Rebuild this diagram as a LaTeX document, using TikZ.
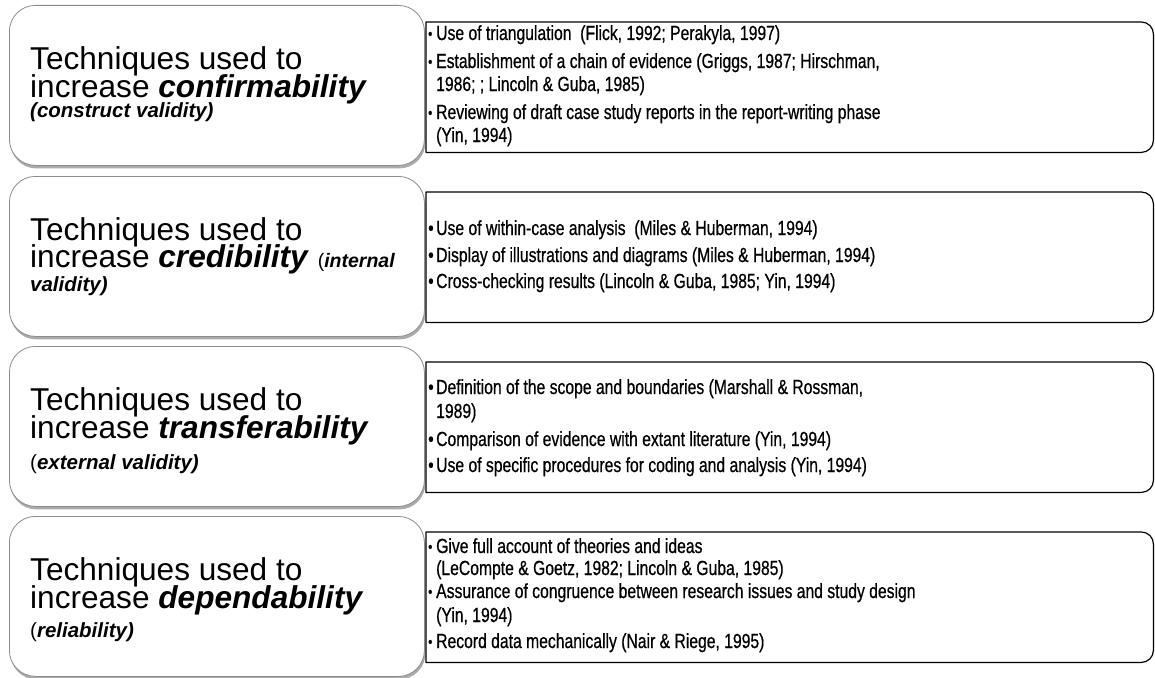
\documentclass[tikz,border=0pt]{standalone}
\usepackage{fontspec}
\setmainfont{Liberation Sans}
\newfontfamily\narrowfont{Liberation Sans}[FakeStretch=0.77, FakeBold=0.6]
\usetikzlibrary{shadows}

% bullet and hanging indent for the item lists
\newcommand\bul{\makebox[8pt][l]{\textbullet}}
\newcommand\sbul{\makebox[8pt][l]{\raisebox{1pt}{\scalebox{0.75}{\textbullet}}}}
\newcommand\cont{\hspace*{8pt}}
\newcommand\bi[1]{\textbf{\textit{#1}}}

\tikzset{
  leftbox/.style={draw=black!45, fill=white, line width=0.8pt,
    rounded corners=26pt, anchor=north west, inner sep=0pt,
    minimum width=415pt, minimum height=160pt,
    drop shadow={shadow xshift=1pt, shadow yshift=-3pt, fill=black!60, opacity=0.55}},
  rightbox/.style={fill=white, anchor=north west, inner sep=0pt,
    minimum width=727pt, minimum height=130pt},
  rightedge/.style={draw=black, line width=1.2pt, line join=round},
  ltitle/.style={anchor=base west, inner sep=0pt, font=\fontsize{31.6}{31.6}\selectfont},
  lsub/.style={anchor=base west, inner sep=0pt, font=\fontsize{20.5}{20.5}\selectfont},
  rtext/.style={anchor=base west, inner sep=0pt, font=\narrowfont\fontsize{20.4}{24}\selectfont},
}

\begin{document}
\begin{tikzpicture}[x=1pt, y=-1pt]
\useasboundingbox (0,0) rectangle (1155,677);
\fill[white] (0,0) rectangle (1155,677);

% left-hand boxes
\node[leftbox] (L1) at (9,5) {};
\node[leftbox] (L2) at (9,176) {};
\node[leftbox] (L3) at (9,346) {};
\node[leftbox] (L4) at (9,516) {};

% right-hand boxes: square on the left, rounded on the right
\node[rightbox] (R1) at (426,22) {};
\node[rightbox] (R2) at (426,192) {};
\node[rightbox] (R3) at (426,362) {};
\node[rightbox] (R4) at (426,532) {};
\foreach \n in {R1,R2,R3,R4}{
  \draw[rightedge] (\n.north west) -- ([xshift=-12pt]\n.north east)
    arc[start angle=90, end angle=0, radius=12pt]
    -- ([yshift=12pt]\n.south east)
    arc[start angle=0, end angle=-90, radius=12pt]
    -- (\n.south west) -- cycle;
}

% titles
\node[ltitle] (t1a) at (30,70)  {Techniques used to};
\node[ltitle] (t1b) at (30,97)  {increase \bi{confirmability}};
\node[lsub]   (t1c) at (30,117) {\bi{(construct validity)}};

\node[ltitle] (t2a) at (30,240) {Techniques used to};
\node[ltitle] (t2b) at (30,267) {increase \bi{credibility} {\fontsize{19.5}{19.5}\selectfont (\bi{internal}}};
\node[lsub]   (t2c) at (30,291) {\bi{validity)}};

\node[ltitle] (t3a) at (30,410) {Techniques used to};
\node[ltitle] (t3b) at (30,438) {increase \bi{transferability}};
\node[lsub]   (t3c) at (30,469) {(\bi{external validity)}};

\node[ltitle] (t4a) at (30,580) {Techniques used to};
\node[ltitle] (t4b) at (30,608) {increase \bi{dependability}};
\node[lsub]   (t4c) at (30,637) {(\bi{reliability)}};

% item lists
\node[rtext] (i1a) at (428,40)  {\sbul Use of triangulation\ \ (Flick, 1992; Perakyla, 1997)};
\node[rtext] (i1b) at (428,68)  {\sbul Establishment of a chain of evidence (Griggs, 1987; Hirschman,};
\node[rtext] (i1c) at (428,91)  {\cont 1986; ; Lincoln \& Guba, 1985)};
\node[rtext] (i1d) at (428,119) {\sbul Reviewing of draft case study reports in the report-writing phase};
\node[rtext] (i1e) at (428,142) {\cont (Yin, 1994)};

\node[rtext] (i2a) at (428,235) {\bul Use of within-case analysis\ \ (Miles \& Huberman, 1994)};
\node[rtext] (i2b) at (428,262) {\bul Display of illustrations and diagrams (Miles \& Huberman, 1994)};
\node[rtext] (i2c) at (428,288) {\bul Cross-checking results (Lincoln \& Guba, 1985; Yin, 1994)};

\node[rtext] (i3a) at (428,394) {\bul Definition of the scope and boundaries (Marshall \& Rossman,};
\node[rtext] (i3b) at (428,418) {\cont 1989)};
\node[rtext] (i3c) at (428,446) {\bul Comparison of evidence with extant literature (Yin, 1994)};
\node[rtext] (i3d) at (428,472) {\bul Use of specific procedures for coding and analysis (Yin, 1994)};

\node[rtext] (i4a) at (428,553) {\sbul Give full account of theories and ideas};
\node[rtext] (i4b) at (428,575) {\cont (LeCompte \& Goetz, 1982; Lincoln \& Guba, 1985)};
\node[rtext] (i4c) at (428,598) {\sbul Assurance of congruence between research issues and study design};
\node[rtext] (i4d) at (428,622) {\cont (Yin, 1994)};
\node[rtext] (i4e) at (428,648) {\sbul Record data mechanically (Nair \& Riege, 1995)};
\end{tikzpicture}
\end{document}
